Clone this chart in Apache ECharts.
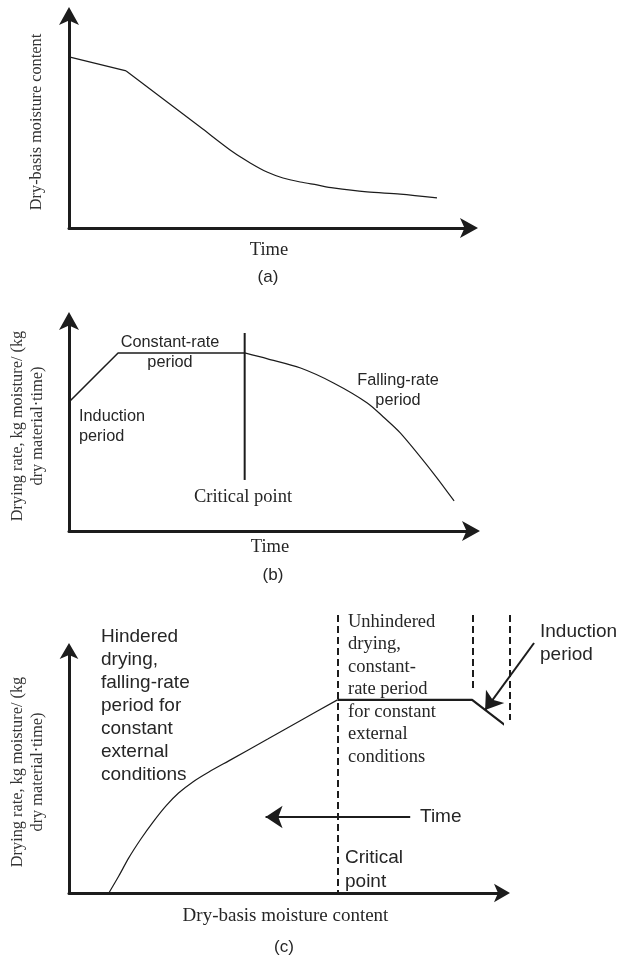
<!DOCTYPE html>
<html>
<head>
<meta charset="utf-8">
<script src="https://cdn.jsdelivr.net/npm/echarts@6/dist/echarts.min.js"></script>
<style>
  html, body { margin: 0; padding: 0; background: #fff; }
  #chart { width: 630px; height: 955px; }
</style>
</head>
<body>
<div id="chart"></div>
<script>
// values, in 0-100 axis units (axis line end = 100)

// (a) moisture content vs time
const aMoistureStart = [[0, 80.7], [14.3, 74.1]];
const aMoistureFall = [[14.3, 74.1], [32.8, 47.6], [41.0, 35.8], [45.3, 30.7], [49.5, 26.4], [53.5, 23.6], [57.8, 21.7], [62.0, 20.3], [66.0, 18.9], [74.5, 17.0], [82.8, 16.0], [92.0, 14.2]];

// (b) drying rate vs time
const bRateStart = [[0, 61.4], [12.2, 84.8], [43.7, 84.8]];
const bRateFall = [[43.7, 84.8], [49.4, 82.0], [57.6, 77.6], [65.8, 70.5], [74.2, 61.0], [78.2, 54.3], [82.4, 46.7], [90.6, 27.6], [95.8, 14.3]];
const bCritical = [[43.7, 94.3], [43.7, 24.3]];

// (c) drying rate vs moisture content
const cRateHindered = [[9.2, 0], [11.5, 7.0], [13.8, 14.5], [16.6, 22.3], [19.4, 29.3], [22.4, 36.0], [25.3, 41.3], [28.6, 45.9], [32.3, 50.0], [36.9, 54.6], [45.9, 63.6], [53.5, 71.3], [62.0, 79.8]];
const cRateConstant = [[62.0, 79.8], [93.1, 79.8], [101.8, 67.8]];
const cDividers = [
  [[62.0, 114.9], [62.0, 0]],
  [[93.3, 114.9], [93.3, 83.1]],
  [[101.8, 114.9], [101.8, 71.5]]
];
const cTimeArrow = [[78.8, 31.4], [45.4, 31.4]];
const cInductionArrow = [[107.4, 103.3], [96.1, 75.6]];

// axis names and panel tags
const xNames = ['Time', 'Time', 'Dry-basis moisture content'];
const yNames = [
  'Dry-basis moisture content',
  'Drying rate, kg moisture/ (kg\ndry material\u00b7time)',
  'Drying rate, kg moisture/ (kg\ndry material\u00b7time)'
];
const panelTags = ['(a)', '(b)', '(c)'];

const SERIF = '"Liberation Serif", "DejaVu Serif", serif';
const SANS = '"Liberation Sans", Arial, sans-serif';
const INK = '#1c1c1c';
const TXT = '#262626';

const grids = [
  { left: 69, top: 16, width: 400, height: 212 },
  { left: 68, top: 321, width: 403, height: 210 },
  { left: 68, top: 651, width: 434, height: 242 }
];
const arrowSizes = [[15, 18], [15, 18], [14, 16]];
const xNameGaps = [13, 7, 14];
const yNameGaps = [22, 21, 21];
const tagPos = [[268, 277], [273, 575], [284, 947]];

// arrow tip sits at line end by default; push it out by half its length
const axisLine = (i) => ({
  show: true, onZero: false,
  symbol: ['none', 'arrow'], symbolSize: arrowSizes[i], symbolOffset: [0, arrowSizes[i][1] / 2],
  lineStyle: { color: INK, width: 3 }
});

const xAxis = grids.map((g, i) => ({
  gridIndex: i, type: 'value', min: 0, max: 100,
  axisLine: axisLine(i), axisTick: { show: false }, axisLabel: { show: false }, splitLine: { show: false },
  name: xNames[i], nameLocation: 'middle', nameGap: xNameGaps[i],
  nameTextStyle: { fontFamily: SERIF, fontSize: i === 2 ? 19 : 18.5, color: TXT }
}));
const yAxis = grids.map((g, i) => ({
  gridIndex: i, type: 'value', min: 0, max: 100,
  axisLine: axisLine(i), axisTick: { show: false }, axisLabel: { show: false }, splitLine: { show: false },
  name: yNames[i], nameLocation: 'middle', nameRotate: 90, nameGap: yNameGaps[i],
  nameTextStyle: { fontFamily: SERIF, fontSize: 16.3, color: '#333', lineHeight: 20 }
}));

const line = (i, data, width, smooth) => ({
  type: 'line', xAxisIndex: i, yAxisIndex: i, data,
  showSymbol: false, symbol: 'none', smooth: smooth || false, clip: false, silent: true,
  lineStyle: { color: INK, width }
});
const arrowLines = (i, segs, opts) => ({
  type: 'lines', coordinateSystem: 'cartesian2d', xAxisIndex: i, yAxisIndex: i,
  clip: false, silent: true, polyline: false,
  symbol: opts.symbol || ['none', 'none'], symbolSize: opts.symbolSize || 10,
  lineStyle: Object.assign({ color: INK, width: 2, opacity: 1, curveness: 0 }, opts.lineStyle || {}),
  data: segs.map(s => ({ coords: s }))
});

const txt = (text, x, y, font, size, align, lh) => ({
  type: 'text', x, y, silent: true,
  style: {
    text, fontFamily: font, fontSize: size, fill: TXT, lineHeight: lh || size * 1.2,
    align: align, textAlign: align, verticalAlign: 'middle', textVerticalAlign: 'middle'
  }
});

const graphics = [
  // panel (b) notes
  txt('Constant-rate\nperiod', 170, 353, SANS, 16.3, 'center', 20),
  txt('Induction\nperiod', 79, 426.5, SANS, 16.3, 'left', 19.5),
  txt('Falling-rate\nperiod', 398, 390.5, SANS, 16.3, 'center', 19.5),
  txt('Critical point', 243, 497, SERIF, 18.5, 'center'),
  // panel (c) notes
  txt('Hindered\ndrying,\nfalling-rate\nperiod for\nconstant\nexternal\nconditions', 101, 706, SANS, 19, 'left', 23),
  txt('Unhindered\ndrying,\nconstant-\nrate period\nfor constant\nexternal\nconditions', 348, 689.5, SERIF, 18.5, 'left', 22.5),
  txt('Induction\nperiod', 540, 643.5, SANS, 19, 'left', 23),
  txt('Time', 420, 817, SANS, 19, 'left'),
  txt('Critical\npoint', 345, 870, SANS, 19, 'left', 24)
].concat(panelTags.map((t, i) => txt(t, tagPos[i][0], tagPos[i][1], SANS, 17, 'center')));

const chart = echarts.init(document.getElementById('chart'), null, { renderer: 'canvas' });
chart.setOption({
  backgroundColor: '#fff',
  animation: false,
  grid: grids,
  xAxis, yAxis,
  graphic: { elements: graphics },
  series: [
    line(0, aMoistureStart, 1.3),
    line(0, aMoistureFall, 1.2, 0.3),
    line(1, bRateStart, 1.5),
    line(1, bRateFall, 1.2, 0.3),
    line(1, bCritical, 2),
    line(2, cRateHindered, 1.2, 0.3),
    line(2, cRateConstant, 2.2),
    arrowLines(2, cDividers, { lineStyle: { width: 2, type: [7, 4] } }),
    arrowLines(2, [cTimeArrow, cInductionArrow], { symbol: ['none', 'arrow'], symbolSize: [13, 17], lineStyle: { width: 2 } })
  ]
});
</script>
</body>
</html>
